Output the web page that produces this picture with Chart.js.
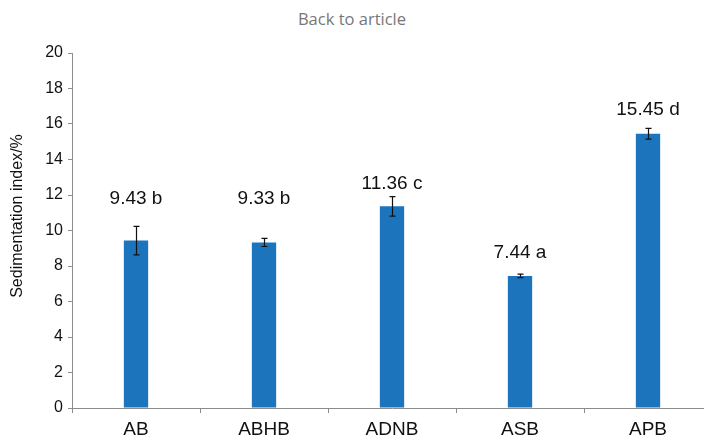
<!DOCTYPE html>
<html>
<head>
<meta charset="utf-8">
<script src="https://cdn.jsdelivr.net/npm/chart.js@4"></script>
<style>
  html, body { margin: 0; padding: 0; background: #fff; overflow: hidden; }
  #wrap { position: relative; width: 704px; height: 447px; overflow: hidden; }
  #back { position: absolute; top: 8px; left: 0; width: 704px; text-align: center; line-height: 22px;
          font-family: 'Open Sans', sans-serif; font-size: 16.5px; color: #777; }
  canvas { position: absolute; top: 0; left: 0; }
</style>
</head>
<body>
<div id="wrap">
  <div id="back">Back to article</div>
  <canvas id="chart" width="712" height="447"></canvas>
</div>
<script>
// data
const categories = ['AB', 'ABHB', 'ADNB', 'ASB', 'APB'];
const values = [9.43, 9.33, 11.36, 7.44, 15.45];
const errors = [0.8, 0.23, 0.55, 0.1, 0.3];
const letters = ['b', 'b', 'c', 'a', 'd'];
// where the value labels sit (y value of label centre)
const labelAt = [11.77, 11.77, 12.62, 8.76, 16.8];
const yTicks = [0, 2, 4, 6, 8, 10, 12, 14, 16, 18, 20];
const yTitle = 'Sedimentation index/%';

const barColor = '#1c74bd';
const axisColor = '#8c8c8c';
const font = '"Liberation Sans", Arial, sans-serif';

const errorBars = {
  id: 'errorBars',
  afterDatasetsDraw(chart) {
    const { ctx, scales: { y } } = chart;
    const meta = chart.getDatasetMeta(0);
    ctx.save();
    ctx.strokeStyle = '#111';
    ctx.lineWidth = 1.2;
    meta.data.forEach((bar, i) => {
      const top = y.getPixelForValue(values[i] + errors[i]);
      const bot = y.getPixelForValue(values[i] - errors[i]);
      const x = Math.round(bar.x) + 0.5;
      ctx.beginPath();
      ctx.moveTo(x, top); ctx.lineTo(x, bot);
      ctx.moveTo(x - 3, top); ctx.lineTo(x + 3, top);
      ctx.moveTo(x - 3, bot); ctx.lineTo(x + 3, bot);
      ctx.stroke();
    });
    ctx.restore();
  }
};

const valueLabels = {
  id: 'valueLabels',
  afterDatasetsDraw(chart) {
    const { ctx, scales: { y } } = chart;
    const meta = chart.getDatasetMeta(0);
    ctx.save();
    ctx.fillStyle = '#111';
    ctx.font = '19px ' + font;
    ctx.textAlign = 'center';
    ctx.textBaseline = 'middle';
    meta.data.forEach((bar, i) => {
      ctx.fillText(values[i].toFixed(2) + ' ' + letters[i], bar.x, y.getPixelForValue(labelAt[i]));
    });
    ctx.restore();
  }
};

// axis title drawn by hand: in the figure it sits a bit above the middle of the axis
const axisTitle = {
  id: 'axisTitle',
  afterDraw(chart) {
    const { ctx } = chart;
    ctx.save();
    ctx.translate(18, 216);
    ctx.rotate(-Math.PI / 2);
    ctx.fillStyle = '#111';
    ctx.font = '16px ' + font;
    ctx.textAlign = 'center';
    ctx.textBaseline = 'middle';
    ctx.fillText(yTitle, 0, 0);
    ctx.restore();
  }
};

new Chart(document.getElementById('chart'), {
  type: 'bar',
  data: {
    labels: categories,
    datasets: [{
      data: values,
      backgroundColor: barColor,
      borderWidth: 0,
      barPercentage: 0.19,
      categoryPercentage: 1
    }]
  },
  options: {
    responsive: false,
    animation: false,
    layout: { padding: { top: 53, right: 0, left: 0, bottom: 0 } },
    plugins: { legend: { display: false }, tooltip: { enabled: false } },
    scales: {
      y: {
        min: 0,
        max: 20,
        afterBuildTicks(scale) { scale.ticks = yTicks.map(v => ({ value: v })); },
        afterFit(scale) { scale.width = 72; },
        ticks: {
          color: '#111',
          padding: 5,
          font: { family: font, size: 16 }
        },
        grid: { display: true, drawOnChartArea: false, drawTicks: true, tickLength: 4, color: axisColor },
        border: { color: axisColor, width: 1 }
      },
      x: {
        afterFit(scale) { scale.height = 39; },
        ticks: {
          color: '#111',
          padding: 5,
          font: { family: font, size: 19 }
        },
        grid: { display: true, drawOnChartArea: false, drawTicks: true, tickLength: 5, color: axisColor, offset: true },
        border: { color: axisColor, width: 1 }
      }
    }
  },
  plugins: [errorBars, valueLabels, axisTitle]
});
</script>
</body>
</html>
